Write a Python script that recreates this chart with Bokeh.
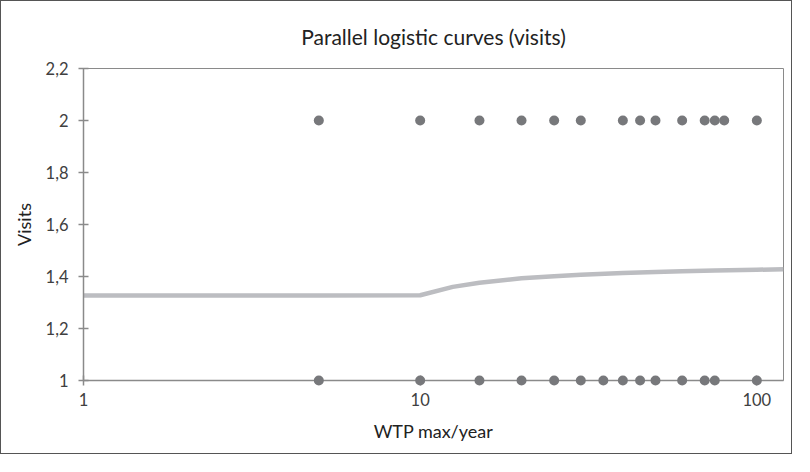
from bokeh.plotting import figure
from bokeh.models import Range1d, FixedTicker
from bokeh.embed import file_html
from bokeh.resources import INLINE

# Observed data points (WTP max/year vs visits)
x_visits2 = [5, 10, 15, 20, 25, 30, 40, 45, 50, 60, 70, 75, 80, 100]
y_visits2 = [2] * len(x_visits2)
x_visits1 = [5, 10, 15, 20, 25, 30, 35, 40, 45, 50, 60, 70, 75, 100]
y_visits1 = [1] * len(x_visits1)

# Fitted parallel logistic curve
curve_x = [1, 5, 10, 12.5, 15, 20, 25, 30, 40, 50, 60, 75, 100, 120]
curve_y = [1.327, 1.327, 1.328, 1.360, 1.376, 1.393, 1.401, 1.407, 1.413, 1.417, 1.420, 1.423, 1.426, 1.428]

x_ticks = [1, 10, 100]
x_tick_labels = ["1", "10", "100"]
y_ticks = [1.0, 1.2, 1.4, 1.6, 1.8, 2.0, 2.2]
y_tick_labels = ["1", "1,2", "1,4", "1,6", "1,8", "2", "2,2"]

FONT = "Lato"
AXIS_GRAY = "#8a8a8a"
TEXT_GRAY = "#404040"

p = figure(width=792, height=454, x_axis_type="log",
           x_range=Range1d(1, 120), y_range=Range1d(1, 2.2),
           output_backend="svg", toolbar_location=None,
           title="Parallel logistic curves (visits)",
           min_border_left=82, min_border_right=10,
           min_border_top=67, min_border_bottom=75)
p.styles = {"border": "1px solid #555555"}

p.title.align = "center"
p.title.text_font = FONT
p.title.text_font_size = "21px"
p.title.text_font_style = "normal"
p.title.text_color = "#222222"
p.title.standoff = 40

p.grid.visible = False
p.outline_line_color = AXIS_GRAY
p.outline_line_width = 1
p.background_fill_color = "white"
p.border_fill_color = "white"

for ax in (p.xaxis[0], p.yaxis[0]):
    ax.axis_line_color = AXIS_GRAY
    ax.axis_line_width = 1.5
    ax.major_tick_line_color = AXIS_GRAY
    ax.major_tick_line_width = 1.5
    ax.major_tick_in = 5
    ax.major_tick_out = 5
    ax.minor_tick_line_color = None
    ax.major_label_text_font = FONT
    ax.major_label_text_font_size = "16.5px"
    ax.major_label_text_color = TEXT_GRAY
    ax.axis_label_text_font = FONT
    ax.axis_label_text_font_size = "18px"
    ax.axis_label_text_font_style = "normal"
    ax.axis_label_text_color = "#222222"

p.xaxis[0].ticker = FixedTicker(ticks=x_ticks)
p.xaxis[0].major_label_overrides = dict(zip(x_ticks, x_tick_labels))
p.xaxis[0].major_label_standoff = 7
p.xaxis[0].axis_label = "WTP max/year"
p.xaxis[0].axis_label_standoff = 11

p.yaxis[0].ticker = FixedTicker(ticks=y_ticks)
p.yaxis[0].major_label_overrides = dict(zip(y_ticks, y_tick_labels))
p.yaxis[0].major_label_standoff = 10
p.yaxis[0].axis_label = "Visits"
p.yaxis[0].axis_label_standoff = 8

p.line(curve_x, curve_y, line_color="#bcbdc1", line_width=4.5)
r2 = p.scatter(x_visits2, y_visits2, size=10, fill_color="#77787b", line_color=None)
r1 = p.scatter(x_visits1, y_visits1, size=10, fill_color="#77787b", line_color=None)
r1.level = "overlay"
r2.level = "overlay"

open("out.html", "w").write(file_html(p, INLINE))
